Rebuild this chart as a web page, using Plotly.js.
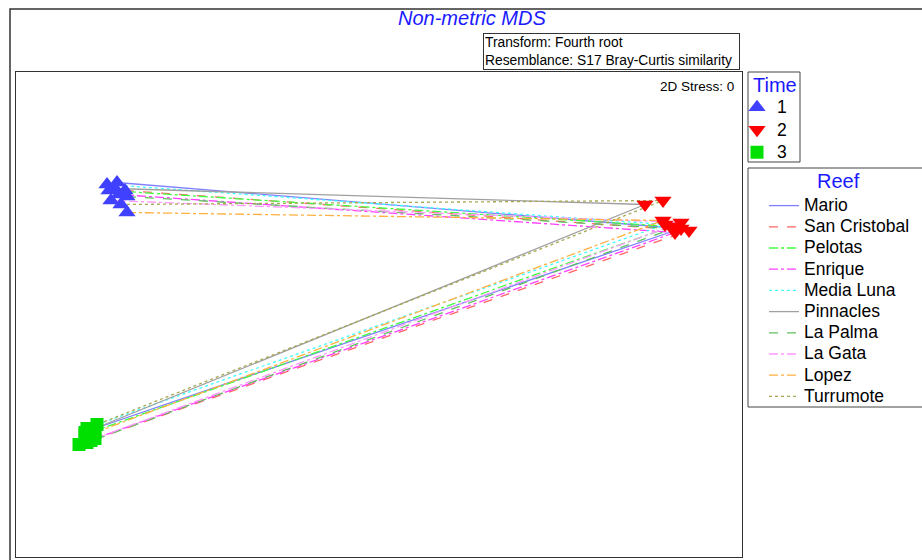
<!DOCTYPE html>
<html>
<head>
<meta charset="utf-8">
<script src="https://cdn.plot.ly/plotly-3.0.1.min.js"></script>
<style>html,body{margin:0;padding:0;background:#fff;}#chart{width:922px;height:560px;}</style>
</head>
<body>
<div id="chart"></div>
<script>
// Reefs, their line styles, and MDS coordinates at times 1, 2, 3
const reefs = ["Mario","San Cristobal","Pelotas","Enrique","Media Luna","Pinnacles","La Palma","La Gata","Lopez","Turrumote"];
const times = ["1","2","3"];
const mdsX = [
  [-1.31, 1.51, -1.45],
  [-1.27, 1.55, -1.44],
  [-1.35, 1.46, -1.47],
  [-1.30, 1.48, -1.42],
  [-1.36, 1.43, -1.41],
  [-1.32, 1.33, -1.47],
  [-1.26, 1.47, -1.46],
  [-1.34, 1.51, -1.50],
  [-1.26, 1.42, -1.42],
  [-1.29, 1.42, -1.46]
];
const mdsY = [
  [0.66, 0.43, -0.58],
  [0.62, 0.42, -0.63],
  [0.62, 0.44, -0.60],
  [0.60, 0.41, -0.62],
  [0.65, 0.45, -0.55],
  [0.63, 0.55, -0.59],
  [0.59, 0.43, -0.64],
  [0.57, 0.46, -0.65],
  [0.51, 0.47, -0.59],
  [0.55, 0.57, -0.57]
];
const reefColors = ["#8080ff","#ff6666","#40ff40","#ff40ff","#40ffff","#a0a0a0","#60c060","#ff99ff","#ffb040","#a8a850"];
const reefDash = ["solid","dash","dashdot","dashdot","dot","solid","dash","dashdot","dashdot","dot"];
const timeColors = ["#4040ff","#ff0000","#00e000"];
const timeSymbols = ["triangle-up","triangle-down","square"];

const W = 922, H = 560, L = 16, R = 742, T = 72, B = 557;
const px = v => (v - L) / (R - L);
const py = v => 1 - (v - T) / (B - T);

const traces = [];
reefs.forEach((r, i) => {
  traces.push({
    type: "scatter", mode: "lines", name: "<span style='font-size:17.5px'>" + r + "</span>",
    x: mdsX[i], y: mdsY[i],
    line: {color: reefColors[i], dash: reefDash[i], width: 1.3},
    legend: "legend2", hoverinfo: "skip"
  });
});
times.forEach((t, k) => {
  traces.push({
    type: "scatter", mode: "markers", name: "<span style='font-size:17.5px'>" + t + "</span>",
    x: mdsX.map(p => p[k]), y: mdsY.map(p => p[k]),
    marker: {color: timeColors[k], symbol: timeSymbols[k], size: k === 2 ? 13 : 15, line: {width: 0}},
    legend: "legend"
  });
});

const layout = {
  width: W, height: H,
  margin: {l: L, r: W - R, t: T, b: H - B},
  paper_bgcolor: "#fff", plot_bgcolor: "#fff",
  font: {family: "Liberation Sans, Arial, sans-serif", color: "#000"},
  showlegend: true,
  xaxis: {range: [-1.815, 1.815], showgrid: false, zeroline: false, showticklabels: false, ticks: "",
          showline: true, mirror: true, linecolor: "#333", linewidth: 1},
  yaxis: {range: [-1.2125, 1.2125], showgrid: false, zeroline: false, showticklabels: false, ticks: "",
          showline: true, mirror: true, linecolor: "#333", linewidth: 1},
  legend: {
    x: px(737), y: py(91), xanchor: "left", yanchor: "top",
    borderwidth: 0, bgcolor: "rgba(0,0,0,0)",
    font: {size: 15, color: "#000"},
    tracegroupgap: 0
  },
  legend2: {
    x: px(764), y: py(190), xanchor: "left", yanchor: "top",
    borderwidth: 0, bgcolor: "rgba(0,0,0,0)",
    font: {size: 14, color: "#000"},
    tracegroupgap: 0
  },
  shapes: [
    {type: "rect", xref: "paper", yref: "paper", x0: px(10), x1: 1.4, y0: -0.2, y1: py(9),
     line: {color: "#333", width: 1.5}, fillcolor: "rgba(0,0,0,0)", layer: "below"},
    {type: "rect", xref: "paper", yref: "paper", x0: px(748), x1: px(800), y0: py(162), y1: py(72),
     line: {color: "#444", width: 1}, fillcolor: "rgba(0,0,0,0)", layer: "below"},
    {type: "rect", xref: "paper", yref: "paper", x0: px(748), x1: 1.4, y0: py(407), y1: py(168),
     line: {color: "#444", width: 1}, fillcolor: "rgba(0,0,0,0)", layer: "below"}
  ],
  annotations: [
    {text: "<i>Non-metric MDS</i>", xref: "paper", yref: "paper", x: px(472), y: py(18),
     xanchor: "center", yanchor: "middle", showarrow: false, font: {size: 20, color: "#1a1aff"}},
    {text: "Transform: Fourth root<br>Resemblance: S17 Bray-Curtis similarity", xref: "paper", yref: "paper",
     x: px(483), y: py(33), xanchor: "left", yanchor: "top", align: "left", width: 253,
     showarrow: false, font: {size: 13.8, color: "#000"}, bordercolor: "#333", borderwidth: 1, borderpad: 1, bgcolor: "#fff"},
    {text: "2D Stress: 0", xref: "paper", yref: "paper", x: px(736), y: py(86),
     xanchor: "right", yanchor: "middle", showarrow: false, font: {size: 13.5, color: "#000"}},
    {text: "Time", xref: "paper", yref: "paper", x: px(775), y: py(85),
     xanchor: "center", yanchor: "middle", showarrow: false, font: {size: 20, color: "#1a1aff"}},
    {text: "Reef", xref: "paper", yref: "paper", x: px(838), y: py(181),
     xanchor: "center", yanchor: "middle", showarrow: false, font: {size: 20, color: "#1a1aff"}}
  ]
};

Plotly.newPlot("chart", traces, layout, {staticPlot: true});
</script>
</body>
</html>
